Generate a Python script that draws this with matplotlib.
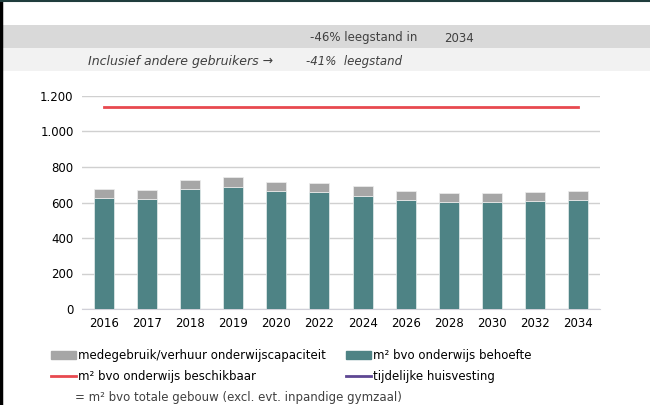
import matplotlib
matplotlib.use("Agg")
import matplotlib.pyplot as plt
from matplotlib.patches import Rectangle, Patch
from matplotlib.lines import Line2D
import numpy as np

plt.rcParams['font.family'] = ['DejaVu Sans']

# gegevens
jaren = ['2016', '2017', '2018', '2019', '2020', '2022', '2024', '2026', '2028', '2030', '2032', '2034']
behoefte = [624, 618, 674, 689, 663, 657, 638, 612, 603, 603, 607, 612]
medegebruik = [54, 54, 54, 53, 54, 55, 55, 55, 52, 52, 54, 55]
beschikbaar = 1140

teal = '#4e8385'
grijs = '#a6a6a6'
rood = '#e8494f'
paars = '#5e4793'
tekst = '#404040'

fig = plt.figure(figsize=(6.5, 4.05), dpi=100)

# achtergrondbanden bovenaan
fig.patches.append(Rectangle((0.004, 1 - 48/405), 0.996, 23/405, transform=fig.transFigure,
                             facecolor='#d9d9d9', edgecolor='none', zorder=0))
fig.patches.append(Rectangle((0.004, 1 - 71/405), 0.996, 23/405, transform=fig.transFigure,
                             facecolor='#f2f2f2', edgecolor='none', zorder=0))
# kader
fig.add_artist(Line2D([0.002, 0.002], [0, 1], transform=fig.transFigure, color='black', lw=2.5))
fig.add_artist(Line2D([0, 1], [0.998, 0.998], transform=fig.transFigure, color='#1f3d3d', lw=1.5))

fig.text(310/650, 1 - 38/405, '-46% leegstand in', fontsize=8.5, color=tekst, va='center')
fig.text(444/650, 1 - 38/405, '2034', fontsize=8.5, color=tekst, va='center')
fig.text(88/650, 1 - 61/405, 'Inclusief andere gebruikers \u2192', fontsize=9, color=tekst,
         va='center', style='italic')
fig.text(306/650, 1 - 61/405, '-41%  leegstand', fontsize=8.5, color=tekst, va='center', style='italic')

ax = fig.add_axes([82/650, 1 - 309/405, 518/650, 213/405])
x = np.arange(len(jaren))
ax.bar(x, behoefte, width=0.46, color=teal, edgecolor='#e8eeee', linewidth=0.5, zorder=3)
ax.bar(x, medegebruik, bottom=behoefte, width=0.46, color=grijs, edgecolor='#eeeeee', linewidth=0.5, zorder=3)
ax.plot([x[0], x[-1]], [beschikbaar, beschikbaar], color=rood, lw=2, zorder=4)

ax.set_xlim(-0.5, len(jaren) - 0.5)
ax.set_ylim(0, 1200)
ax.set_yticks(range(0, 1201, 200))
ax.set_yticklabels(['0', '200', '400', '600', '800', '1.000', '1.200'])
ax.set_xticks(x)
ax.set_xticklabels(jaren)
ax.grid(axis='y', color='#d0d0d0', lw=1, zorder=0)
for s in ['top', 'right', 'left']:
    ax.spines[s].set_visible(False)
ax.spines['bottom'].set_color('#d0d0d8')
ax.tick_params(length=0, labelsize=8.5, labelcolor='black', pad=6)

# legenda: twee kolommen
opts = dict(loc='upper left', frameon=False, fontsize=8.5, handlelength=2.1, handletextpad=0.2,
            labelspacing=0.65, borderaxespad=0, borderpad=0)
leg1 = fig.legend([Patch(color=grijs), Line2D([], [], color=rood, lw=2)],
                  ['medegebruik/verhuur onderwijscapaciteit', 'm² bvo onderwijs beschikbaar'],
                  bbox_to_anchor=(51/650, 1 - 349/405), **opts)
leg2 = fig.legend([Patch(color=teal), Line2D([], [], color=paars, lw=2)],
                  ['m² bvo onderwijs behoefte', 'tijdelijke huisvesting'],
                  bbox_to_anchor=(346/650, 1 - 349/405), **opts)
fig.text(75/650, 1 - 398/405, '= m² bvo totale gebouw (excl. evt. inpandige gymzaal)',
         fontsize=8.5, color=tekst, va='center')

fig.savefig('out.png', dpi=100)
